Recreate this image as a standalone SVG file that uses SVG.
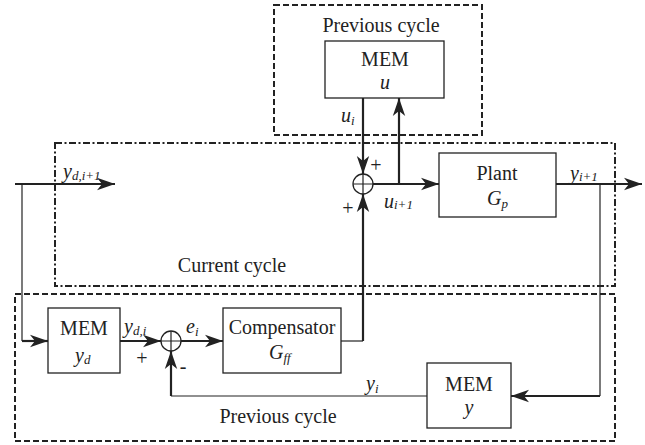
<svg xmlns="http://www.w3.org/2000/svg" width="645" height="445" viewBox="0 0 645 445">
<style>
.box{fill:#fff;stroke:#222;stroke-width:1.3}
.t{font-family:"Liberation Serif",serif;font-size:20px;fill:#222;text-anchor:middle}
.i{font-family:"Liberation Serif",serif;font-style:italic;font-size:20px;fill:#222}
.s{font-size:13px}
.thick{fill:none;stroke:#222;stroke-width:2.2}
.thin{fill:none;stroke:#222;stroke-width:1.2}
.dash{fill:none;stroke:#222;stroke-width:2;stroke-dasharray:6 3}
.dashdot{fill:none;stroke:#222;stroke-width:2;stroke-dasharray:7 2.5 2 2.5}
.sum{fill:#fff;stroke:#222;stroke-width:1.3}
</style>
<defs>
<marker id="ar" markerUnits="userSpaceOnUse" markerWidth="20" markerHeight="14" refX="18" refY="7" orient="auto">
<path d="M18,7 L0,0.8 L5,7 L0,13.2 z" fill="#222"/>
</marker>
</defs>
<g id="regions">
<rect class="dash" x="274" y="5" width="208" height="130"/>
<rect class="dashdot" x="55" y="143" width="560" height="143"/>
<rect class="dash" x="15" y="294" width="600" height="147"/>
<text class="t" x="381" y="32">Previous cycle</text>
<text class="t" x="232" y="272">Current cycle</text>
<text class="t" x="278" y="423">Previous cycle</text>
</g>
<g id="connectors">
<path class="thick" d="M15,184 H115" marker-end="url(#ar)"/>
<path class="thin" d="M22,184 V341"/>
<path class="thick" d="M22,341 H48" marker-end="url(#ar)"/>
<path class="thick" d="M120,341 H161" marker-end="url(#ar)"/>
<path class="thick" d="M181,341 H223" marker-end="url(#ar)"/>
<path class="thin" d="M341,341 H363"/>
<path class="thick" d="M363,341 V194" marker-end="url(#ar)"/>
<path class="thin" d="M427,396 H171"/>
<path class="thick" d="M171,396 V351" marker-end="url(#ar)"/>
<path class="thick" d="M363,98 V174" marker-end="url(#ar)"/>
<path class="thick" d="M373,184 H439" marker-end="url(#ar)"/>
<path class="thick" d="M399,184 V98" marker-end="url(#ar)"/>
<path class="thick" d="M556,184 H642" marker-end="url(#ar)"/>
<path class="thin" d="M600,184 V396"/>
<path class="thick" d="M600,396 H511" marker-end="url(#ar)"/>
</g>
<g id="mem-u">
<rect class="box" x="325" y="41" width="119" height="57"/>
<text class="t" x="385" y="66">MEM</text>
<text class="i" x="385" y="89" text-anchor="middle">u</text>
</g>
<g id="sum1">
<circle class="sum" cx="363" cy="184" r="10"/>
<path class="thin" d="M353,184 H373 M363,174 V194"/>
</g>
<g id="plant">
<rect class="box" x="439" y="153" width="117" height="64"/>
<text class="t" x="497" y="180">Plant</text>
<text class="i" x="487" y="205">G<tspan class="s" dy="3">p</tspan></text>
</g>
<g id="mem-yd">
<rect class="box" x="48" y="308" width="72" height="65"/>
<text class="t" x="84" y="335">MEM</text>
<text class="i" x="75" y="362">y<tspan class="s" dy="2">d</tspan></text>
</g>
<g id="sum2">
<circle class="sum" cx="171" cy="341" r="10"/>
<path class="thin" d="M161,341 H181 M171,331 V351"/>
</g>
<g id="compensator">
<rect class="box" x="223" y="308" width="118" height="65"/>
<text class="t" x="282" y="334">Compensator</text>
<text class="i" x="269" y="359">G<tspan class="s" dy="3">ff</tspan></text>
</g>
<g id="mem-y">
<rect class="box" x="427" y="363" width="84" height="65"/>
<text class="t" x="469" y="391">MEM</text>
<text class="i" x="469" y="414" text-anchor="middle">y</text>
</g>
<g id="labels">
<text class="i" x="63" y="178">y<tspan class="s" dy="2">d,i+1</tspan></text>
<text class="i" x="124" y="333">y<tspan class="s" dy="2">d,i</tspan></text>
<text class="i" x="186" y="333">e<tspan class="s" dy="3">i</tspan></text>
<text class="i" x="341" y="122">u<tspan class="s" dy="3">i</tspan></text>
<text class="i" x="384" y="208">u<tspan class="s" dy="1">i+1</tspan></text>
<text class="i" x="570" y="180">y<tspan class="s" dy="1">i+1</tspan></text>
<text class="i" x="366" y="390">y<tspan class="s" dy="3">i</tspan></text>
<text class="t" x="376" y="172">+</text>
<text class="t" x="348" y="215">+</text>
<text class="t" x="142" y="365">+</text>
<text class="t" x="183" y="373">-</text>
</g>
</svg>
